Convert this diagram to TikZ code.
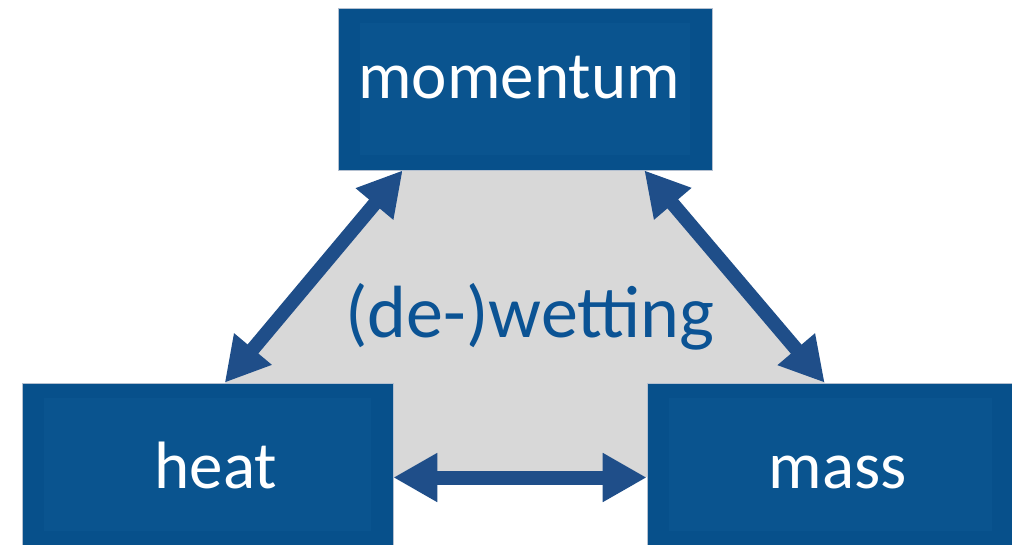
\documentclass[tikz,border=0pt]{standalone}
\usepackage{fontspec}
\setmainfont{Carlito}
\usetikzlibrary{arrows.meta,calc}
\definecolor{boxout}{HTML}{07508B}
\definecolor{boxin}{HTML}{0A548F}
\definecolor{arrowc}{HTML}{1F4E89}
\definecolor{bggray}{HTML}{D8D8D8}
\definecolor{txtblue}{HTML}{0B5394}
\definecolor{rim}{HTML}{B4C0D0}
\tikzset{
  box/.style={rectangle, fill=boxout, draw=rim, line width=0.6pt, inner sep=0pt,
    path picture={\fill[boxin] ([shift={(22pt,-15pt)}]path picture bounding box.north west)
      rectangle ([shift={(-22pt,15pt)}]path picture bounding box.south east);}},
  lbl/.style={anchor=base, text=white, inner sep=0pt, font=\fontsize{67}{70}\selectfont},
  link/.style={draw=arrowc, line width=14pt,
    {Triangle[length=44pt,width=46pt]}-{Triangle[length=44pt,width=46pt]}}
}
\begin{document}
\begin{tikzpicture}[x=1pt,y=-1pt]
\useasboundingbox (0,0) rectangle (1012,544);
% background shape
\fill[bggray] (404,170) -- (644,170) -- (825,383) -- (825,477) -- (225,477) -- (225,383) -- cycle;
% boxes
\node[box, minimum width=374pt, minimum height=162pt] (mom) at (525,89) {};
\node[box, minimum width=371pt, minimum height=163pt] (heat) at (207.5,464.5) {};
\node[box, minimum width=367pt, minimum height=163pt] (mass) at (830.5,464.5) {};
% labels
\node[lbl] (tmom) at (519,98) {momentum};
\node[lbl] (theat) at (216,488) {heat};
\node[lbl] (tmass) at (838,488) {mass};
\node[anchor=base, text=txtblue, inner sep=0pt, font=\fontsize{74}{78}\selectfont] (wet) at (530,337) {(de-)wetting};
% connectors
\draw[link] ([xshift=65pt]mom.south west) -- ([xshift=203pt]heat.north west);
\draw[link] ([xshift=-68pt]mom.south east) -- ([xshift=178pt]mass.north west);
\draw[link] ([yshift=-13pt]heat.east) -- ([yshift=-13pt]mass.west);
\end{tikzpicture}
\end{document}
